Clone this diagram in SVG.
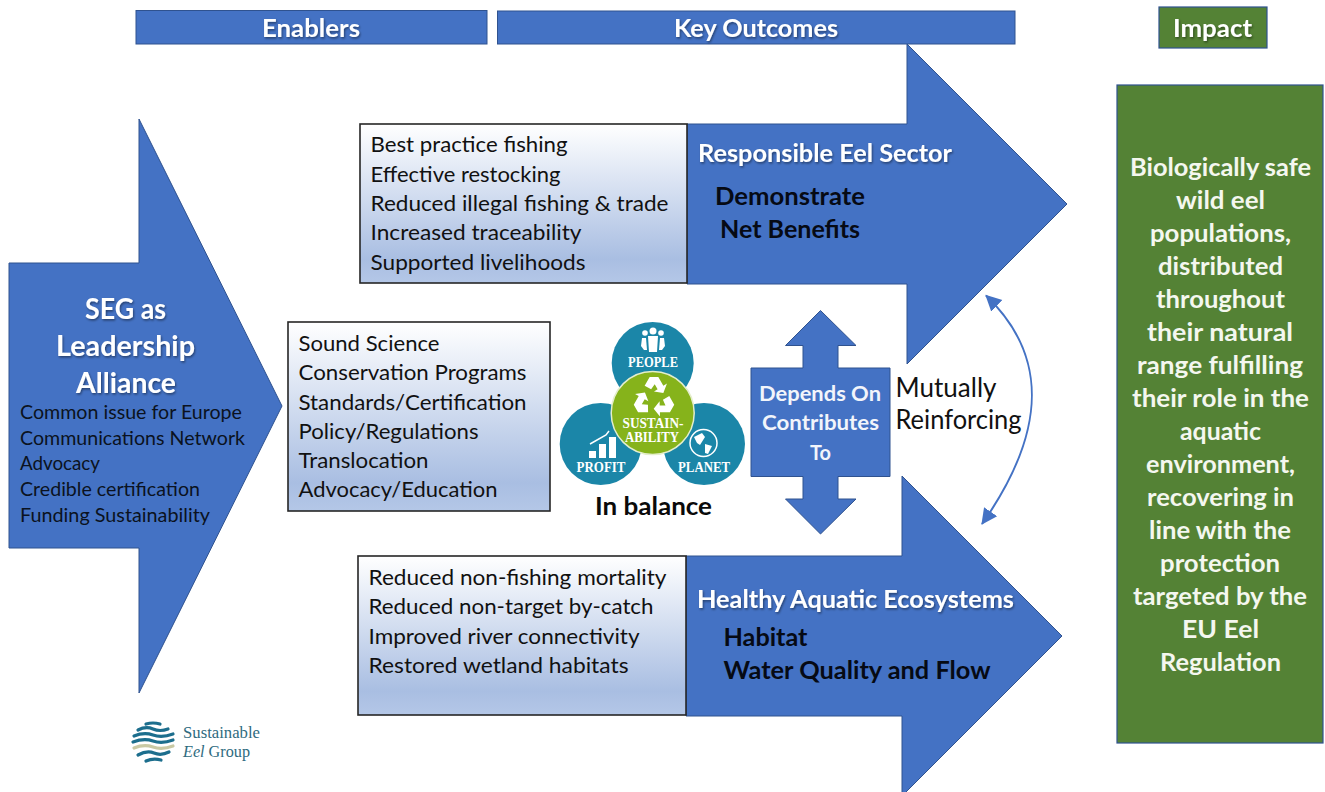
<svg xmlns="http://www.w3.org/2000/svg" width="1325" height="792" viewBox="0 0 1325 792">
<style>
text{font-family:Lato,"Carlito","Open Sans","Liberation Sans",sans-serif}
.blue{fill:#4472c4;stroke:#2f528f;stroke-width:1}
.green{fill:#548235;stroke:#2f528f;stroke-width:1.2}
.box{fill:url(#fade);stroke:#262626;stroke-width:1.6}
.li{font-size:22px;fill:#111}
.lis{font-size:20px;fill:#0b1220}
.hd{font-weight:700;fill:#fff;filter:url(#sh)}
.b{font-weight:700;fill:#060a14}
.imp{font-size:25px;font-weight:700;fill:#f4f7ef;text-anchor:start}
.m{font-size:26px;fill:#111}
.lg{font-family:"Liberation Serif",serif;font-weight:700;font-size:14px;fill:#fff;text-anchor:middle}
.w{fill:none;stroke:#1c6e8d;stroke-width:3.2;stroke-linecap:round}
.tl{font-family:"Liberation Serif",serif;font-size:16.5px;fill:#2f6b80}
</style>
<defs>
<linearGradient id="fade" x1="0" y1="0" x2="0" y2="1"><stop offset="0" stop-color="#ffffff"/><stop offset=".85" stop-color="#a9bee2"/><stop offset="1" stop-color="#b4c7e7"/></linearGradient>
<filter id="sh" x="-10%" y="-30%" width="120%" height="170%"><feDropShadow dx="1" dy="1.5" stdDeviation="1" flood-color="#000" flood-opacity=".45"/></filter>
<marker id="ah" markerUnits="userSpaceOnUse" markerWidth="18" markerHeight="18" refX="15" refY="8" orient="auto-start-reverse" viewBox="0 0 18 16"><path d="M0 0L16 8L0 16Z" fill="#4472c4"/></marker>
<path id="rec" d="M-6-29L6-29L13-17L18-20L13-7L0-9L5-12L1-19L-4-12L-13-17Z" fill="#fff"/>
</defs>
<rect width="1325" height="792" fill="#fff"/>

<g id="header-enablers"><rect class="blue" x="136" y="10.500" width="351" height="33.500"/><text class="hd" x="262" y="37" font-size="24" textLength="98" lengthAdjust="spacingAndGlyphs">Enablers</text></g>
<g id="header-outcomes"><rect class="blue" x="497.500" y="11" width="517.500" height="33"/><text class="hd" x="674" y="37" font-size="24" textLength="164" lengthAdjust="spacingAndGlyphs">Key Outcomes</text></g>
<g id="header-impact"><rect class="green" x="1159" y="7" width="108" height="41"/><text class="hd" x="1173" y="37" font-size="25" textLength="79" lengthAdjust="spacingAndGlyphs">Impact</text></g>

<g id="seg-arrow"><path class="blue" d="M9 263H139V119L282 406L139 693V548H9Z"/>
<g font-size="28"><text class="hd" x="85" y="319" textLength="81" lengthAdjust="spacingAndGlyphs">SEG as</text><text class="hd" x="56" y="356" textLength="139" lengthAdjust="spacingAndGlyphs">Leadership</text><text class="hd" x="76" y="393" textLength="100" lengthAdjust="spacingAndGlyphs">Alliance</text></g>
<text class="lis" x="20" y="419" textLength="222" lengthAdjust="spacingAndGlyphs">Common issue for Europe</text>
<text class="lis" x="20" y="445" textLength="225" lengthAdjust="spacingAndGlyphs">Communications Network</text>
<text class="lis" x="20" y="470" textLength="80" lengthAdjust="spacingAndGlyphs">Advocacy</text>
<text class="lis" x="20" y="496" textLength="180" lengthAdjust="spacingAndGlyphs">Credible certification</text>
<text class="lis" x="20" y="522" textLength="190" lengthAdjust="spacingAndGlyphs">Funding Sustainability</text></g>

<g id="responsible-arrow"><path class="blue" d="M687 124H907V44L1067 204L907 364V284H687Z"/>
<text class="hd" x="698" y="162" font-size="25" textLength="254" lengthAdjust="spacingAndGlyphs">Responsible Eel Sector</text>
<text class="b" x="715" y="205" font-size="25" textLength="150" lengthAdjust="spacingAndGlyphs">Demonstrate</text>
<text class="b" x="720" y="238" font-size="25" textLength="140" lengthAdjust="spacingAndGlyphs">Net Benefits</text></g>

<g id="healthy-arrow"><path class="blue" d="M686 556H902V476L1062 636L902 796V716H686Z"/>
<text class="hd" x="697" y="608" font-size="25" textLength="317" lengthAdjust="spacingAndGlyphs">Healthy Aquatic Ecosystems</text>
<text class="b" x="723.500" y="646" font-size="25" textLength="84" lengthAdjust="spacingAndGlyphs">Habitat</text>
<text class="b" x="723.500" y="679" font-size="25" textLength="267" lengthAdjust="spacingAndGlyphs">Water Quality and Flow</text></g>

<g id="outcomes-top"><rect class="box" x="360" y="124" width="327" height="159"/>
<text class="li" x="370.500" y="152" textLength="197" lengthAdjust="spacingAndGlyphs">Best practice fishing</text>
<text class="li" x="370.500" y="181.500" textLength="190" lengthAdjust="spacingAndGlyphs">Effective restocking</text>
<text class="li" x="370.500" y="211" textLength="298" lengthAdjust="spacingAndGlyphs">Reduced illegal fishing &amp; trade</text>
<text class="li" x="370.500" y="240" textLength="211" lengthAdjust="spacingAndGlyphs">Increased traceability</text>
<text class="li" x="370.500" y="269.500" textLength="215" lengthAdjust="spacingAndGlyphs">Supported livelihoods</text></g>

<g id="enablers-box"><rect class="box" x="288" y="322" width="262" height="189"/>
<text class="li" x="298.500" y="351" textLength="141" lengthAdjust="spacingAndGlyphs">Sound Science</text>
<text class="li" x="298.500" y="380" textLength="228" lengthAdjust="spacingAndGlyphs">Conservation Programs</text>
<text class="li" x="298.500" y="409.500" textLength="228" lengthAdjust="spacingAndGlyphs">Standards/Certification</text>
<text class="li" x="298.500" y="439" textLength="180" lengthAdjust="spacingAndGlyphs">Policy/Regulations</text>
<text class="li" x="298.500" y="468" textLength="130" lengthAdjust="spacingAndGlyphs">Translocation</text>
<text class="li" x="298.500" y="497" textLength="199" lengthAdjust="spacingAndGlyphs">Advocacy/Education</text></g>

<g id="outcomes-bottom"><rect class="box" x="358" y="556" width="328" height="159"/>
<text class="li" x="368.500" y="585" textLength="298" lengthAdjust="spacingAndGlyphs">Reduced non-fishing mortality</text>
<text class="li" x="368.500" y="614" textLength="285" lengthAdjust="spacingAndGlyphs">Reduced non-target by-catch</text>
<text class="li" x="368.500" y="644" textLength="271" lengthAdjust="spacingAndGlyphs">Improved river connectivity</text>
<text class="li" x="368.500" y="673" textLength="260" lengthAdjust="spacingAndGlyphs">Restored wetland habitats</text></g>

<g id="sustainability">
<circle cx="652.700" cy="363" r="41" fill="#1b86a8"/>
<circle cx="600.700" cy="444" r="41" fill="#1b86a8"/>
<circle cx="704" cy="444" r="41" fill="#1b86a8"/>
<g fill="#fff"><circle cx="653" cy="331" r="3.500"/><circle cx="645" cy="333" r="2.800"/><circle cx="661" cy="333" r="2.800"/><path d="M648 336H658L657 352H649Z"/><path d="M642 338H646L647 350H644L641 346Z"/><path d="M660 338H664L665 346L662 350H659Z"/></g>
<text class="lg" x="653" y="367" textLength="50" lengthAdjust="spacingAndGlyphs">PEOPLE</text>
<g fill="#fff"><rect x="589" y="451" width="7" height="7"/><rect x="599" y="444" width="7" height="14"/><rect x="609" y="437" width="7" height="21"/></g>
<path d="M590 444L606 435L609 431" fill="none" stroke="#fff" stroke-width="1.500"/>
<text class="lg" x="601" y="472" textLength="49" lengthAdjust="spacingAndGlyphs">PROFIT</text>
<circle cx="703.500" cy="443" r="13.500" fill="#1b86a8" stroke="#fff" stroke-width="1.500"/>
<path d="M694 437L702 433L705 437L700 445L697 443ZM705 444L712 446L708 454L705 453Z" fill="#fff"/>
<text class="lg" x="704" y="472" textLength="52" lengthAdjust="spacingAndGlyphs">PLANET</text>
<circle cx="652.700" cy="413" r="41.500" fill="#86b31b" stroke="#e4eecb" stroke-width="1.500"/>
<g transform="translate(654,398) scale(.72)"><use href="#rec"/><use href="#rec" transform="rotate(120)"/><use href="#rec" transform="rotate(240)"/></g>
<text class="lg" x="653" y="428" textLength="61" lengthAdjust="spacingAndGlyphs">SUSTAIN-</text>
<text class="lg" x="652" y="441.500" textLength="54" lengthAdjust="spacingAndGlyphs">ABILITY</text>
<text x="595" y="515" font-size="24" font-weight="700" fill="#0a0a0a" textLength="117" lengthAdjust="spacingAndGlyphs">In balance</text>
</g>

<g id="depends-arrow"><path class="blue" d="M820.500 310.500L856 345.500H838V368H890V476.500H838V499H856L820.500 534L785.500 499H803V476.500H751V368H803V345.500H785.500Z"/>
<g font-weight="700" fill="#f2f5fb" font-size="21"><text x="759" y="401" textLength="122" lengthAdjust="spacingAndGlyphs">Depends On</text><text x="762" y="430" textLength="117" lengthAdjust="spacingAndGlyphs">Contributes</text><text x="810" y="460" textLength="21" lengthAdjust="spacingAndGlyphs">To</text></g></g>

<g id="connectors"><path d="M986 295.500C1048 355 1048 430 982 524" fill="none" stroke="#4472c4" stroke-width="2" marker-start="url(#ah)" marker-end="url(#ah)"/></g>
<g id="mutually-label"><text class="m" x="895.500" y="397" textLength="101" lengthAdjust="spacingAndGlyphs">Mutually</text><text class="m" x="895.500" y="429" textLength="126" lengthAdjust="spacingAndGlyphs">Reinforcing</text></g>

<g id="impact-box"><rect class="green" x="1117" y="85" width="206" height="658"/>
<text class="imp" x="1130" y="176" textLength="181" lengthAdjust="spacingAndGlyphs">Biologically safe</text>
<text class="imp" x="1176" y="209" textLength="89" lengthAdjust="spacingAndGlyphs">wild eel</text>
<text class="imp" x="1150" y="242" textLength="141" lengthAdjust="spacingAndGlyphs">populations,</text>
<text class="imp" x="1158" y="275" textLength="125" lengthAdjust="spacingAndGlyphs">distributed</text>
<text class="imp" x="1156" y="308" textLength="129" lengthAdjust="spacingAndGlyphs">throughout</text>
<text class="imp" x="1147" y="341" textLength="146" lengthAdjust="spacingAndGlyphs">their natural</text>
<text class="imp" x="1137" y="374" textLength="166" lengthAdjust="spacingAndGlyphs">range fulfilling</text>
<text class="imp" x="1132" y="407" textLength="177" lengthAdjust="spacingAndGlyphs">their role in the</text>
<text class="imp" x="1180" y="440" textLength="81" lengthAdjust="spacingAndGlyphs">aquatic</text>
<text class="imp" x="1146" y="473" textLength="149" lengthAdjust="spacingAndGlyphs">environment,</text>
<text class="imp" x="1147" y="506" textLength="147" lengthAdjust="spacingAndGlyphs">recovering in</text>
<text class="imp" x="1149" y="539" textLength="142" lengthAdjust="spacingAndGlyphs">line with the</text>
<text class="imp" x="1160" y="572" textLength="120" lengthAdjust="spacingAndGlyphs">protection</text>
<text class="imp" x="1133" y="605" textLength="174" lengthAdjust="spacingAndGlyphs">targeted by the</text>
<text class="imp" x="1182" y="638" textLength="77" lengthAdjust="spacingAndGlyphs">EU Eel</text>
<text class="imp" x="1160" y="671" textLength="121" lengthAdjust="spacingAndGlyphs">Regulation</text></g>

<g id="seg-logo">
<path class="w" d="M146 724Q153 722 160 724"/><path class="w" d="M138 730Q146 726 153 729T168 729"/><path class="w" d="M134 736Q144 732 153 735T173 734"/><path class="w" d="M133 742Q144 738 153 741T173 740"/><path class="w" d="M134 748Q144 744 153 747T173 746" style="stroke:#c9c9a4"/><path class="w" d="M138 755Q147 750 154 753T169 752"/><path class="w" d="M146 761Q153 758 161 760"/>
<text class="tl" x="183" y="738" textLength="77" lengthAdjust="spacingAndGlyphs">Sustainable</text>
<text class="tl" x="183" y="757" textLength="67" lengthAdjust="spacingAndGlyphs"><tspan font-style="italic">Eel</tspan> Group</text>
</g>
</svg>
